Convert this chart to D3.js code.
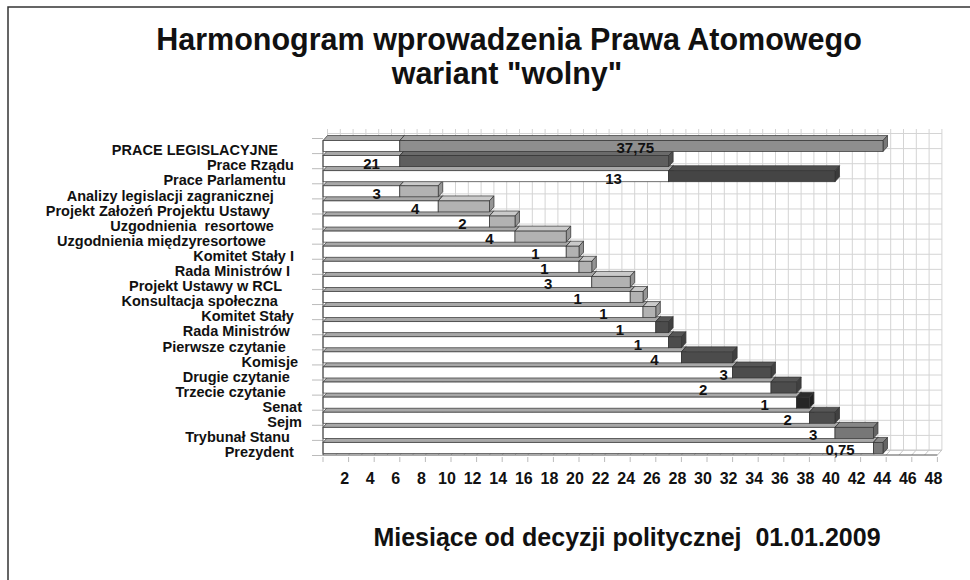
<!DOCTYPE html>
<meta charset="utf-8">
<style>
body { margin: 0; background: #fff; }
text { font-family: "Liberation Sans", Arial, sans-serif; font-weight: bold; fill: #111; white-space: pre; }
</style>
<body>
<script src="https://d3js.org/d3.v7.min.js"></script>
<script>

// categories (trailing spaces as in the source sheet)
var categories = [
  "PRACE LEGISLACYJNE      ",
  "Prace Rządu  ",
  "Prace Parlamentu    ",
  "Analizy legislacji zagranicznej       ",
  "Projekt Założeń Projektu Ustawy        ",
  "Uzgodnienia  resortowe       ",
  "Uzgodnienia międzyresortowe         ",
  "Komitet Stały I  ",
  "Rada Ministrów I   ",
  "Projekt Ustawy w RCL     ",
  "Konsultacja społeczna      ",
  "Komitet Stały  ",
  "Rada Ministrów   ",
  "Pierwsze czytanie    ",
  "Komisje ",
  "Drugie czytanie   ",
  "Trzecie czytanie    ",
  "Senat",
  "Sejm",
  "Trybunał Stanu   ",
  "Prezydent  "
];

// month in which each step starts, and how long it takes
var starts    = [6, 6, 27, 6, 9, 13, 15, 19, 20, 21, 24, 25, 26, 27, 28, 32, 35, 37, 38, 40, 43];
var durations = [37.75, 21, 13, 3, 4, 2, 4, 1, 1, 3, 1, 1, 1, 1, 4, 3, 2, 1, 2, 3, 0.75];

// where the duration label sits (in months)
var labelAt = [24.4, 3.8, 22.7, 4.2, 7.2, 10.9, 13.0, 16.6, 17.3, 17.6, 19.9,
               21.9, 23.2, 24.6, 25.9, 31.3, 29.7, 34.5, 36.3, 38.3, 40.4];

// phase of each step
var phases = ["total", "govTotal", "parlTotal",
  "gov", "gov", "gov", "gov", "gov", "gov", "gov", "gov", "gov",
  "parl", "parl", "parl", "parl", "parl", "senate", "parl", "final", "final"];

var xTickValues = [2, 4, 6, 8, 10, 12, 14, 16, 18, 20, 22, 24, 26, 28, 30, 32, 34, 36, 38, 40, 42, 44, 46, 48];

var phaseColor = {
  total: "#8e8e8e", govTotal: "#5e5e5e", parlTotal: "#454545",
  gov: "#b2b2b2", parl: "#4c4c4c", senate: "#262626", final: "#777777"
};

var width = 970, height = 580;
var dx = 4.5, dy = -5;   // depth of the 3d boxes

var svg = d3.select("body").append("svg")
  .attr("width", width)
  .attr("height", height);

// frame
svg.append("path")
  .attr("d", "M8,580V7H970")
  .attr("fill", "none")
  .attr("stroke", "#333")
  .attr("stroke-width", 1.5);

var x = d3.scaleLinear().domain([0, 48]).range([323, 937.4]);
var y = d3.scaleBand().domain(categories)
  .range([138.5, 455.5])
  .paddingInner(0.27)
  .paddingOuter(0.135);

var yTop = 129, yFloor = 455;
var step = y.step();

// back wall
var wall = svg.append("g");
wall.selectAll(".vg").data(d3.range(0, 49))
  .enter().append("line")
  .attr("x1", function(d) { return x(d) + dx; })
  .attr("x2", function(d) { return x(d) + dx; })
  .attr("y1", yTop).attr("y2", yFloor + dy)
  .attr("stroke", "#d4d4d4").attr("stroke-width", 1);
wall.selectAll(".hg").data(d3.range(0, categories.length + 1))
  .enter().append("line")
  .attr("x1", x(0) + dx).attr("x2", x(48) + dx)
  .attr("y1", function(i) { return y.range()[0] + i * step + dy; })
  .attr("y2", function(i) { return y.range()[0] + i * step + dy; })
  .attr("stroke", "#d4d4d4").attr("stroke-width", 1);

// floor
wall.selectAll(".fg").data(d3.range(0, 49))
  .enter().append("line")
  .attr("x1", function(d) { return x(d); })
  .attr("x2", function(d) { return x(d) + dx; })
  .attr("y1", yFloor).attr("y2", yFloor + dy)
  .attr("stroke", "#c8c8c8");
wall.append("line")
  .attr("x1", x(0) + dx).attr("x2", x(48) + dx)
  .attr("y1", yFloor + dy).attr("y2", yFloor + dy)
  .attr("stroke", "#c8c8c8");

// tick marks
svg.selectAll(".xt").data([0].concat(xTickValues))
  .enter().append("line")
  .attr("x1", function(d) { return x(d); })
  .attr("x2", function(d) { return x(d); })
  .attr("y1", yFloor + 2).attr("y2", yFloor + 7)
  .attr("stroke", "#bbb");
svg.selectAll(".yt").data(d3.range(0, categories.length + 1))
  .enter().append("line")
  .attr("x1", x(0) - 11).attr("x2", x(0))
  .attr("y1", function(i) { return y.range()[0] + i * step; })
  .attr("y2", function(i) { return y.range()[0] + i * step; })
  .attr("stroke", "#bbb");

// 3d box
function box(g, x0, x1, top, h, front, topFill, side) {
  g.append("path")
    .attr("d", "M" + x0 + "," + top + "L" + (x0 + dx) + "," + (top + dy) +
      "L" + (x1 + dx) + "," + (top + dy) + "L" + x1 + "," + top + "Z")
    .attr("fill", topFill).attr("stroke", "#333").attr("stroke-width", 0.7);
  g.append("path")
    .attr("d", "M" + x1 + "," + top + "L" + (x1 + dx) + "," + (top + dy) +
      "L" + (x1 + dx) + "," + (top + h + dy) + "L" + x1 + "," + (top + h) + "Z")
    .attr("fill", side).attr("stroke", "#333").attr("stroke-width", 0.7);
  g.append("rect")
    .attr("x", x0).attr("y", top)
    .attr("width", x1 - x0).attr("height", h)
    .attr("fill", front).attr("stroke", "#333").attr("stroke-width", 0.7);
}

var bars = svg.append("g");
// bottom rows first, so upper rows cover what is behind them
for (var i = categories.length - 1; i >= 0; i--) {
  var c = categories[i];
  var col = d3.color(phaseColor[phases[i]]);
  box(bars, x(0), x(starts[i]), y(c), y.bandwidth(), "#fff", "#a8a8a8", "#888");
  box(bars, x(starts[i]), x(starts[i] + durations[i]), y(c), y.bandwidth(),
    col.formatHex(), col.brighter(0.35).formatHex(), col.darker(0.5).formatHex());
}

// axis lines
svg.append("path")
  .attr("d", "M" + x(0) + "," + (y.range()[0] + 2) + "V" + yFloor + "H" + x(48))
  .attr("fill", "none").attr("stroke", "#555").attr("stroke-width", 1);

// duration labels
var fmt = d3.formatLocale({decimal: ",", thousands: " ", grouping: [3], currency: ["", ""]}).format(",~r");
svg.append("g").selectAll("text")
  .data(durations)
  .enter().append("text")
  .attr("x", function(d, i) { return x(labelAt[i]); })
  .attr("y", function(d, i) { return y(categories[i]) + y.bandwidth() / 2 + 2; })
  .attr("dy", "0.36em")
  .attr("text-anchor", "middle")
  .attr("font-size", "15px")
  .text(function(d) { return fmt(d); });

// category labels
svg.append("g").selectAll("text")
  .data(categories)
  .enter().append("text")
  .attr("x", x(0) - 21)
  .attr("y", function(d) { return y(d) + y.bandwidth() / 2 + 4; })
  .attr("dy", "0.36em")
  .attr("text-anchor", "end")
  .attr("font-size", "14.5px")
  .text(function(d) { return d; });

// month labels
svg.append("g").selectAll("text")
  .data(xTickValues)
  .enter().append("text")
  .attr("x", function(d) { return x(d) - 4; })
  .attr("y", 484)
  .attr("text-anchor", "middle")
  .attr("font-size", "16px")
  .text(function(d) { return d; });

// titles
svg.append("text")
  .attr("x", 509).attr("y", 50)
  .attr("text-anchor", "middle")
  .attr("font-size", "30.5px")
  .text("Harmonogram wprowadzenia Prawa Atomowego");
svg.append("text")
  .attr("x", 507).attr("y", 84)
  .attr("text-anchor", "middle")
  .attr("font-size", "30.5px")
  .text("wariant \"wolny\"");
svg.append("text")
  .attr("x", 627).attr("y", 546)
  .attr("text-anchor", "middle")
  .attr("font-size", "25px")
  .text("Miesiące od decyzji politycznej  01.01.2009");

</script>
</body>
